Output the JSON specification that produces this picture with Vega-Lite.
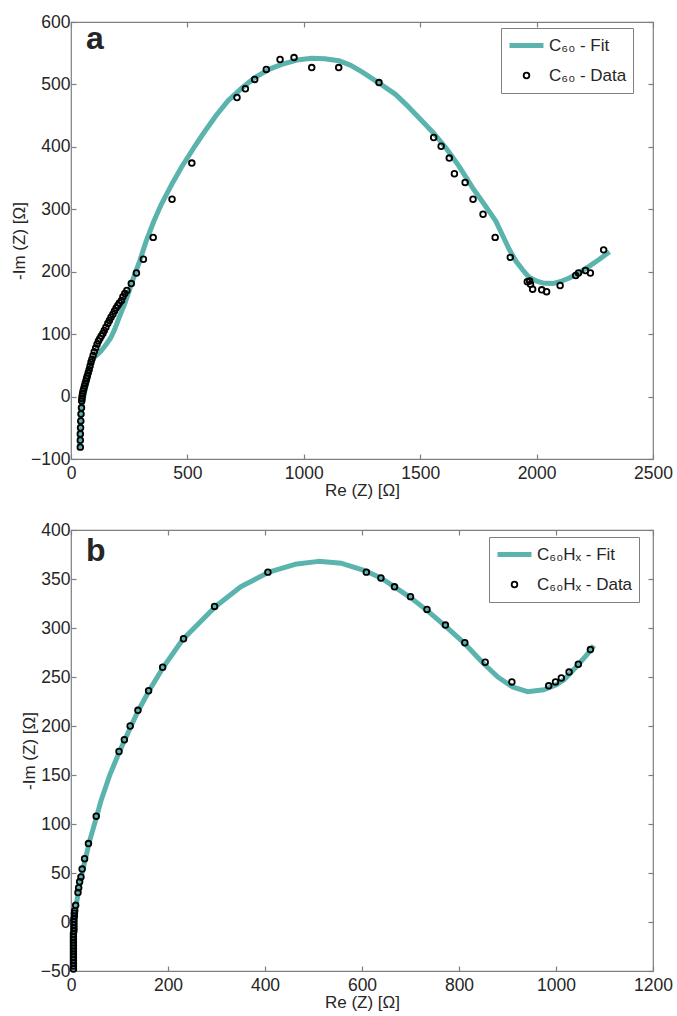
{
  "$schema": "https://vega.github.io/schema/vega-lite/v6.json",
  "background": "white",
  "padding": {"left": 9, "top": 12, "right": 5, "bottom": 0},
  "config": {
    "font": "Liberation Sans",
    "view": {"stroke": "#7f7f7f", "strokeWidth": 1.2},
    "axis": {
      "domain": false, "grid": false, "tickSize": -5, "tickColor": "#7f7f7f", "tickWidth": 1.2,
      "labelFont": "Liberation Sans", "labelFontSize": 17.5, "labelColor": "#262626",
      "titleFont": "Liberation Sans", "titleFontSize": 17, "titleFontWeight": "normal", "titleColor": "#262626",
      "labelFlush": false, "labelOverlap": false, "format": "d"
    },
    "axisX": {"labelPadding": 10, "titlePadding": 1},
    "axisY": {"labelPadding": 6, "titlePadding": 2},
    "legend": {
      "title": null, "strokeColor": "#7f7f7f", "fillColor": "white", "padding": 6,
      "labelFont": "Liberation Sans", "labelFontSize": 17, "labelColor": "#262626",
      "rowPadding": 7, "labelOffset": 3, "clipHeight": 23
    }
  },
  "datasets": {
    "fitA": [
      {"x": 36, "y": -85, "series": "C₆₀ - Fit"}, {"x": 38, "y": -60, "series": "C₆₀ - Fit"}, {"x": 41, "y": -35, "series": "C₆₀ - Fit"}, {"x": 45, "y": -18, "series": "C₆₀ - Fit"}, {"x": 50, "y": -8, "series": "C₆₀ - Fit"},
      {"x": 56, "y": 2, "series": "C₆₀ - Fit"}, {"x": 63, "y": 15, "series": "C₆₀ - Fit"}, {"x": 72, "y": 30, "series": "C₆₀ - Fit"}, {"x": 80, "y": 44, "series": "C₆₀ - Fit"}, {"x": 86, "y": 55, "series": "C₆₀ - Fit"},
      {"x": 93, "y": 60, "series": "C₆₀ - Fit"}, {"x": 105, "y": 65, "series": "C₆₀ - Fit"}, {"x": 118, "y": 69, "series": "C₆₀ - Fit"}, {"x": 129, "y": 73, "series": "C₆₀ - Fit"}, {"x": 150, "y": 83, "series": "C₆₀ - Fit"},
      {"x": 172, "y": 95, "series": "C₆₀ - Fit"}, {"x": 188, "y": 108, "series": "C₆₀ - Fit"}, {"x": 201, "y": 121, "series": "C₆₀ - Fit"}, {"x": 215, "y": 134, "series": "C₆₀ - Fit"}, {"x": 230, "y": 148, "series": "C₆₀ - Fit"},
      {"x": 245, "y": 164, "series": "C₆₀ - Fit"}, {"x": 259, "y": 180, "series": "C₆₀ - Fit"}, {"x": 277, "y": 199, "series": "C₆₀ - Fit"}, {"x": 295, "y": 217, "series": "C₆₀ - Fit"}, {"x": 323, "y": 249, "series": "C₆₀ - Fit"},
      {"x": 355, "y": 280, "series": "C₆₀ - Fit"}, {"x": 388, "y": 308, "series": "C₆₀ - Fit"}, {"x": 430, "y": 338, "series": "C₆₀ - Fit"}, {"x": 474, "y": 367, "series": "C₆₀ - Fit"}, {"x": 525, "y": 397, "series": "C₆₀ - Fit"},
      {"x": 575, "y": 425, "series": "C₆₀ - Fit"}, {"x": 625, "y": 451, "series": "C₆₀ - Fit"}, {"x": 675, "y": 474, "series": "C₆₀ - Fit"}, {"x": 730, "y": 493, "series": "C₆₀ - Fit"}, {"x": 790, "y": 511, "series": "C₆₀ - Fit"},
      {"x": 850, "y": 524, "series": "C₆₀ - Fit"}, {"x": 905, "y": 532, "series": "C₆₀ - Fit"}, {"x": 970, "y": 539, "series": "C₆₀ - Fit"}, {"x": 1035, "y": 542, "series": "C₆₀ - Fit"}, {"x": 1090, "y": 541, "series": "C₆₀ - Fit"},
      {"x": 1150, "y": 538, "series": "C₆₀ - Fit"}, {"x": 1200, "y": 531, "series": "C₆₀ - Fit"}, {"x": 1250, "y": 520, "series": "C₆₀ - Fit"}, {"x": 1320, "y": 503, "series": "C₆₀ - Fit"}, {"x": 1394, "y": 484, "series": "C₆₀ - Fit"},
      {"x": 1450, "y": 464, "series": "C₆₀ - Fit"}, {"x": 1509, "y": 441, "series": "C₆₀ - Fit"}, {"x": 1560, "y": 421, "series": "C₆₀ - Fit"}, {"x": 1609, "y": 399, "series": "C₆₀ - Fit"}, {"x": 1665, "y": 370, "series": "C₆₀ - Fit"},
      {"x": 1724, "y": 335, "series": "C₆₀ - Fit"}, {"x": 1775, "y": 308, "series": "C₆₀ - Fit"}, {"x": 1825, "y": 281, "series": "C₆₀ - Fit"}, {"x": 1882, "y": 236, "series": "C₆₀ - Fit"}, {"x": 1911, "y": 217, "series": "C₆₀ - Fit"},
      {"x": 1940, "y": 203, "series": "C₆₀ - Fit"}, {"x": 1968, "y": 191, "series": "C₆₀ - Fit"}, {"x": 2000, "y": 185, "series": "C₆₀ - Fit"}, {"x": 2026, "y": 182, "series": "C₆₀ - Fit"}, {"x": 2069, "y": 181, "series": "C₆₀ - Fit"},
      {"x": 2100, "y": 184, "series": "C₆₀ - Fit"}, {"x": 2141, "y": 190, "series": "C₆₀ - Fit"}, {"x": 2185, "y": 199, "series": "C₆₀ - Fit"}, {"x": 2227, "y": 209, "series": "C₆₀ - Fit"}, {"x": 2270, "y": 220, "series": "C₆₀ - Fit"},
      {"x": 2313, "y": 232, "series": "C₆₀ - Fit"}
    ],
    "dataA": [
      {"x": 40, "y": -81, "series": "C₆₀ - Data"}, {"x": 40, "y": -70, "series": "C₆₀ - Data"}, {"x": 40, "y": -60, "series": "C₆₀ - Data"}, {"x": 41, "y": -50, "series": "C₆₀ - Data"}, {"x": 42, "y": -39, "series": "C₆₀ - Data"},
      {"x": 43, "y": -28, "series": "C₆₀ - Data"}, {"x": 45, "y": -18, "series": "C₆₀ - Data"}, {"x": 46, "y": -7, "series": "C₆₀ - Data"}, {"x": 47, "y": -3, "series": "C₆₀ - Data"}, {"x": 48, "y": 1, "series": "C₆₀ - Data"},
      {"x": 50, "y": 5, "series": "C₆₀ - Data"}, {"x": 52, "y": 9, "series": "C₆₀ - Data"}, {"x": 55, "y": 13, "series": "C₆₀ - Data"}, {"x": 58, "y": 17, "series": "C₆₀ - Data"}, {"x": 61, "y": 21, "series": "C₆₀ - Data"},
      {"x": 64, "y": 25, "series": "C₆₀ - Data"}, {"x": 67, "y": 29, "series": "C₆₀ - Data"}, {"x": 70, "y": 33, "series": "C₆₀ - Data"}, {"x": 74, "y": 38, "series": "C₆₀ - Data"}, {"x": 78, "y": 43, "series": "C₆₀ - Data"},
      {"x": 82, "y": 49, "series": "C₆₀ - Data"}, {"x": 86, "y": 55, "series": "C₆₀ - Data"}, {"x": 90, "y": 60, "series": "C₆₀ - Data"}, {"x": 95, "y": 66, "series": "C₆₀ - Data"}, {"x": 100, "y": 72, "series": "C₆₀ - Data"},
      {"x": 106, "y": 78, "series": "C₆₀ - Data"}, {"x": 112, "y": 84, "series": "C₆₀ - Data"}, {"x": 118, "y": 89, "series": "C₆₀ - Data"}, {"x": 124, "y": 93, "series": "C₆₀ - Data"}, {"x": 130, "y": 97, "series": "C₆₀ - Data"},
      {"x": 137, "y": 101, "series": "C₆₀ - Data"}, {"x": 143, "y": 106, "series": "C₆₀ - Data"}, {"x": 150, "y": 111, "series": "C₆₀ - Data"}, {"x": 158, "y": 117, "series": "C₆₀ - Data"}, {"x": 165, "y": 122, "series": "C₆₀ - Data"},
      {"x": 172, "y": 127, "series": "C₆₀ - Data"}, {"x": 180, "y": 132, "series": "C₆₀ - Data"}, {"x": 187, "y": 137, "series": "C₆₀ - Data"}, {"x": 194, "y": 142, "series": "C₆₀ - Data"}, {"x": 201, "y": 146, "series": "C₆₀ - Data"},
      {"x": 208, "y": 150, "series": "C₆₀ - Data"}, {"x": 217, "y": 154, "series": "C₆₀ - Data"}, {"x": 223, "y": 160, "series": "C₆₀ - Data"}, {"x": 231, "y": 165, "series": "C₆₀ - Data"}, {"x": 240, "y": 170, "series": "C₆₀ - Data"},
      {"x": 259, "y": 181, "series": "C₆₀ - Data"}, {"x": 281, "y": 198, "series": "C₆₀ - Data"}, {"x": 311, "y": 220, "series": "C₆₀ - Data"}, {"x": 353, "y": 255, "series": "C₆₀ - Data"}, {"x": 434, "y": 316, "series": "C₆₀ - Data"},
      {"x": 519, "y": 374, "series": "C₆₀ - Data"}, {"x": 713, "y": 479, "series": "C₆₀ - Data"}, {"x": 749, "y": 493, "series": "C₆₀ - Data"}, {"x": 789, "y": 508, "series": "C₆₀ - Data"}, {"x": 839, "y": 524, "series": "C₆₀ - Data"},
      {"x": 898, "y": 540, "series": "C₆₀ - Data"}, {"x": 958, "y": 543, "series": "C₆₀ - Data"}, {"x": 1034, "y": 527, "series": "C₆₀ - Data"}, {"x": 1150, "y": 527, "series": "C₆₀ - Data"}, {"x": 1323, "y": 503, "series": "C₆₀ - Data"},
      {"x": 1558, "y": 415, "series": "C₆₀ - Data"}, {"x": 1590, "y": 401, "series": "C₆₀ - Data"}, {"x": 1625, "y": 382, "series": "C₆₀ - Data"}, {"x": 1647, "y": 357, "series": "C₆₀ - Data"}, {"x": 1693, "y": 343, "series": "C₆₀ - Data"},
      {"x": 1727, "y": 316, "series": "C₆₀ - Data"}, {"x": 1770, "y": 292, "series": "C₆₀ - Data"}, {"x": 1822, "y": 255, "series": "C₆₀ - Data"}, {"x": 1887, "y": 223, "series": "C₆₀ - Data"}, {"x": 1960, "y": 184, "series": "C₆₀ - Data"},
      {"x": 1970, "y": 185, "series": "C₆₀ - Data"}, {"x": 1974, "y": 180, "series": "C₆₀ - Data"}, {"x": 1983, "y": 172, "series": "C₆₀ - Data"}, {"x": 2022, "y": 171, "series": "C₆₀ - Data"}, {"x": 2043, "y": 168, "series": "C₆₀ - Data"},
      {"x": 2101, "y": 178, "series": "C₆₀ - Data"}, {"x": 2168, "y": 194, "series": "C₆₀ - Data"}, {"x": 2180, "y": 198, "series": "C₆₀ - Data"}, {"x": 2210, "y": 202, "series": "C₆₀ - Data"}, {"x": 2231, "y": 198, "series": "C₆₀ - Data"},
      {"x": 2288, "y": 235, "series": "C₆₀ - Data"}
    ],
    "fitB": [
      {"x": 4, "y": -50, "series": "C₆₀Hₓ - Fit"}, {"x": 5, "y": -30, "series": "C₆₀Hₓ - Fit"}, {"x": 6, "y": -10, "series": "C₆₀Hₓ - Fit"}, {"x": 8, "y": 5, "series": "C₆₀Hₓ - Fit"}, {"x": 11, "y": 18, "series": "C₆₀Hₓ - Fit"},
      {"x": 16, "y": 33, "series": "C₆₀Hₓ - Fit"}, {"x": 22, "y": 48, "series": "C₆₀Hₓ - Fit"}, {"x": 30, "y": 65, "series": "C₆₀Hₓ - Fit"}, {"x": 38, "y": 82, "series": "C₆₀Hₓ - Fit"}, {"x": 52, "y": 106, "series": "C₆₀Hₓ - Fit"},
      {"x": 62, "y": 124, "series": "C₆₀Hₓ - Fit"}, {"x": 80, "y": 150, "series": "C₆₀Hₓ - Fit"}, {"x": 100, "y": 174, "series": "C₆₀Hₓ - Fit"}, {"x": 122, "y": 198, "series": "C₆₀Hₓ - Fit"}, {"x": 138, "y": 215, "series": "C₆₀Hₓ - Fit"},
      {"x": 161, "y": 236, "series": "C₆₀Hₓ - Fit"}, {"x": 189, "y": 259, "series": "C₆₀Hₓ - Fit"}, {"x": 230, "y": 288, "series": "C₆₀Hₓ - Fit"}, {"x": 298, "y": 322, "series": "C₆₀Hₓ - Fit"}, {"x": 350, "y": 342, "series": "C₆₀Hₓ - Fit"},
      {"x": 408, "y": 357, "series": "C₆₀Hₓ - Fit"}, {"x": 462, "y": 365, "series": "C₆₀Hₓ - Fit"}, {"x": 510, "y": 368, "series": "C₆₀Hₓ - Fit"}, {"x": 558, "y": 366, "series": "C₆₀Hₓ - Fit"}, {"x": 609, "y": 358, "series": "C₆₀Hₓ - Fit"},
      {"x": 639, "y": 351, "series": "C₆₀Hₓ - Fit"}, {"x": 667, "y": 342, "series": "C₆₀Hₓ - Fit"}, {"x": 700, "y": 331, "series": "C₆₀Hₓ - Fit"}, {"x": 734, "y": 318, "series": "C₆₀Hₓ - Fit"}, {"x": 772, "y": 302, "series": "C₆₀Hₓ - Fit"},
      {"x": 812, "y": 284, "series": "C₆₀Hₓ - Fit"}, {"x": 850, "y": 264, "series": "C₆₀Hₓ - Fit"}, {"x": 880, "y": 250, "series": "C₆₀Hₓ - Fit"}, {"x": 910, "y": 240, "series": "C₆₀Hₓ - Fit"}, {"x": 941, "y": 235, "series": "C₆₀Hₓ - Fit"},
      {"x": 975, "y": 237, "series": "C₆₀Hₓ - Fit"}, {"x": 1000, "y": 242, "series": "C₆₀Hₓ - Fit"}, {"x": 1016, "y": 247, "series": "C₆₀Hₓ - Fit"}, {"x": 1045, "y": 262, "series": "C₆₀Hₓ - Fit"}, {"x": 1071, "y": 277, "series": "C₆₀Hₓ - Fit"},
      {"x": 1078, "y": 282, "series": "C₆₀Hₓ - Fit"}
    ],
    "dataB": [
      {"x": 5, "y": -48, "series": "C₆₀Hₓ - Data"}, {"x": 5, "y": -45, "series": "C₆₀Hₓ - Data"}, {"x": 5, "y": -42, "series": "C₆₀Hₓ - Data"}, {"x": 5, "y": -39, "series": "C₆₀Hₓ - Data"}, {"x": 5, "y": -36, "series": "C₆₀Hₓ - Data"},
      {"x": 5, "y": -33, "series": "C₆₀Hₓ - Data"}, {"x": 5, "y": -30, "series": "C₆₀Hₓ - Data"}, {"x": 5, "y": -27, "series": "C₆₀Hₓ - Data"}, {"x": 5, "y": -24, "series": "C₆₀Hₓ - Data"}, {"x": 5, "y": -21, "series": "C₆₀Hₓ - Data"},
      {"x": 5, "y": -18, "series": "C₆₀Hₓ - Data"}, {"x": 5, "y": -15, "series": "C₆₀Hₓ - Data"}, {"x": 5, "y": -12, "series": "C₆₀Hₓ - Data"}, {"x": 6, "y": -9, "series": "C₆₀Hₓ - Data"}, {"x": 6, "y": -6, "series": "C₆₀Hₓ - Data"},
      {"x": 6, "y": -3, "series": "C₆₀Hₓ - Data"}, {"x": 6, "y": 0, "series": "C₆₀Hₓ - Data"}, {"x": 6, "y": 3, "series": "C₆₀Hₓ - Data"}, {"x": 7, "y": 6, "series": "C₆₀Hₓ - Data"}, {"x": 7, "y": 9, "series": "C₆₀Hₓ - Data"},
      {"x": 7.6, "y": 11.6, "series": "C₆₀Hₓ - Data"}, {"x": 9.6, "y": 17, "series": "C₆₀Hₓ - Data"}, {"x": 14.4, "y": 30, "series": "C₆₀Hₓ - Data"}, {"x": 15.8, "y": 35, "series": "C₆₀Hₓ - Data"}, {"x": 17.8, "y": 41, "series": "C₆₀Hₓ - Data"},
      {"x": 20.5, "y": 46, "series": "C₆₀Hₓ - Data"}, {"x": 23, "y": 54, "series": "C₆₀Hₓ - Data"}, {"x": 28, "y": 64.6, "series": "C₆₀Hₓ - Data"}, {"x": 36, "y": 80, "series": "C₆₀Hₓ - Data"}, {"x": 52, "y": 108, "series": "C₆₀Hₓ - Data"},
      {"x": 99, "y": 174, "series": "C₆₀Hₓ - Data"}, {"x": 110, "y": 186, "series": "C₆₀Hₓ - Data"}, {"x": 122, "y": 200, "series": "C₆₀Hₓ - Data"}, {"x": 138, "y": 216, "series": "C₆₀Hₓ - Data"}, {"x": 160, "y": 236, "series": "C₆₀Hₓ - Data"},
      {"x": 189, "y": 260, "series": "C₆₀Hₓ - Data"}, {"x": 232, "y": 289, "series": "C₆₀Hₓ - Data"}, {"x": 296, "y": 322, "series": "C₆₀Hₓ - Data"}, {"x": 406, "y": 357, "series": "C₆₀Hₓ - Data"}, {"x": 609, "y": 357, "series": "C₆₀Hₓ - Data"},
      {"x": 639, "y": 351, "series": "C₆₀Hₓ - Data"}, {"x": 667, "y": 342, "series": "C₆₀Hₓ - Data"}, {"x": 700, "y": 332, "series": "C₆₀Hₓ - Data"}, {"x": 734, "y": 319, "series": "C₆₀Hₓ - Data"}, {"x": 772, "y": 303, "series": "C₆₀Hₓ - Data"},
      {"x": 812, "y": 285, "series": "C₆₀Hₓ - Data"}, {"x": 854, "y": 265, "series": "C₆₀Hₓ - Data"}, {"x": 909, "y": 245, "series": "C₆₀Hₓ - Data"}, {"x": 985, "y": 241, "series": "C₆₀Hₓ - Data"}, {"x": 999, "y": 245, "series": "C₆₀Hₓ - Data"},
      {"x": 1011, "y": 249, "series": "C₆₀Hₓ - Data"}, {"x": 1027, "y": 255, "series": "C₆₀Hₓ - Data"}, {"x": 1046, "y": 263, "series": "C₆₀Hₓ - Data"}, {"x": 1071, "y": 278, "series": "C₆₀Hₓ - Data"}
    ]
  },
  "columns": 1,
  "spacing": 20,
  "resolve": {
    "scale": {"color": "independent", "shape": "independent", "size": "independent", "strokeWidth": "independent"},
    "legend": {"color": "independent", "shape": "independent", "size": "independent", "strokeWidth": "independent"}
  },
  "concat": [
    {
      "width": 582,
      "height": 437,
      "layer": [
        {
          "data": {"name": "fitA"},
          "mark": {"type": "line", "strokeWidth": 5, "strokeCap": "butt", "strokeJoin": "round"},
          "encoding": {
            "x": {"field": "x", "type": "quantitative", "scale": {"domain": [0, 2500], "nice": false, "zero": false},
              "axis": {"orient": "bottom", "values": [0, 500, 1000, 1500, 2000, 2500], "title": "Re (Z) [Ω]"}},
            "y": {"field": "y", "type": "quantitative", "scale": {"domain": [-100, 600], "nice": false, "zero": false},
              "axis": {"orient": "left", "values": [-100, 0, 100, 200, 300, 400, 500, 600], "title": "-Im (Z) [Ω]"}},
            "color": {"field": "series", "type": "nominal",
              "scale": {"domain": ["C₆₀ - Fit", "C₆₀ - Data"], "range": ["#5BB3AD", "#000000"]},
              "legend": {"orient": "none", "legendX": 430, "legendY": 6}}
          }
        },
        {
          "data": {"name": "dataA"},
          "mark": {"type": "point", "filled": false, "opacity": 1},
          "encoding": {
            "x": {"field": "x", "type": "quantitative",
              "axis": {"orient": "top", "values": [0, 500, 1000, 1500, 2000, 2500], "labels": false, "title": null}},
            "y": {"field": "y", "type": "quantitative",
              "axis": {"orient": "right", "values": [-100, 0, 100, 200, 300, 400, 500, 600], "labels": false, "title": null}},
            "color": {"field": "series", "type": "nominal"},
            "shape": {"field": "series", "type": "nominal",
              "scale": {"domain": ["C₆₀ - Fit", "C₆₀ - Data"], "range": ["stroke", "circle"]},
              "legend": {"orient": "none", "legendX": 430, "legendY": 6}},
            "size": {"field": "series", "type": "nominal",
              "scale": {"domain": ["C₆₀ - Fit", "C₆₀ - Data"], "range": [1150, 32]},
              "legend": {"orient": "none", "legendX": 430, "legendY": 6}},
            "strokeWidth": {"field": "series", "type": "nominal",
              "scale": {"domain": ["C₆₀ - Fit", "C₆₀ - Data"], "range": [5, 1.8]},
              "legend": {"orient": "none", "legendX": 430, "legendY": 6}}
          }
        },
        {
          "data": {"values": [{"label": "a"}]},
          "mark": {"type": "text", "font": "Liberation Sans", "fontSize": 32, "fontWeight": "bold", "color": "#262626", "align": "left", "baseline": "alphabetic"},
          "encoding": {
            "x": {"datum": 64, "type": "quantitative", "axis": null},
            "y": {"datum": 556, "type": "quantitative", "axis": null},
            "text": {"field": "label"}
          }
        }
      ],
      "resolve": {"axis": {"x": "independent", "y": "independent"}}
    },
    {
      "width": 582,
      "height": 441,
      "layer": [
        {
          "data": {"name": "fitB"},
          "mark": {"type": "line", "strokeWidth": 5, "strokeCap": "butt", "strokeJoin": "round"},
          "encoding": {
            "x": {"field": "x", "type": "quantitative", "scale": {"domain": [0, 1200], "nice": false, "zero": false},
              "axis": {"orient": "bottom", "values": [0, 200, 400, 600, 800, 1000, 1200], "title": "Re (Z) [Ω]"}},
            "y": {"field": "y", "type": "quantitative", "scale": {"domain": [-50, 400], "nice": false, "zero": false},
              "axis": {"orient": "left", "values": [-50, 0, 50, 100, 150, 200, 250, 300, 350, 400], "title": "-Im (Z) [Ω]"}},
            "color": {"field": "series", "type": "nominal",
              "scale": {"domain": ["C₆₀Hₓ - Fit", "C₆₀Hₓ - Data"], "range": ["#5BB3AD", "#000000"]},
              "legend": {"orient": "none", "legendX": 418, "legendY": 7}}
          }
        },
        {
          "data": {"name": "dataB"},
          "mark": {"type": "point", "filled": false, "opacity": 1},
          "encoding": {
            "x": {"field": "x", "type": "quantitative",
              "axis": {"orient": "top", "values": [0, 200, 400, 600, 800, 1000, 1200], "labels": false, "title": null}},
            "y": {"field": "y", "type": "quantitative",
              "axis": {"orient": "right", "values": [-50, 0, 50, 100, 150, 200, 250, 300, 350, 400], "labels": false, "title": null}},
            "color": {"field": "series", "type": "nominal"},
            "shape": {"field": "series", "type": "nominal",
              "scale": {"domain": ["C₆₀Hₓ - Fit", "C₆₀Hₓ - Data"], "range": ["stroke", "circle"]},
              "legend": {"orient": "none", "legendX": 418, "legendY": 7}},
            "size": {"field": "series", "type": "nominal",
              "scale": {"domain": ["C₆₀Hₓ - Fit", "C₆₀Hₓ - Data"], "range": [1150, 32]},
              "legend": {"orient": "none", "legendX": 418, "legendY": 7}},
            "strokeWidth": {"field": "series", "type": "nominal",
              "scale": {"domain": ["C₆₀Hₓ - Fit", "C₆₀Hₓ - Data"], "range": [5, 1.8]},
              "legend": {"orient": "none", "legendX": 418, "legendY": 7}}
          }
        },
        {
          "data": {"values": [{"label": "b"}]},
          "mark": {"type": "text", "font": "Liberation Sans", "fontSize": 32, "fontWeight": "bold", "color": "#262626", "align": "left", "baseline": "alphabetic"},
          "encoding": {
            "x": {"datum": 31, "type": "quantitative", "axis": null},
            "y": {"datum": 368, "type": "quantitative", "axis": null},
            "text": {"field": "label"}
          }
        }
      ],
      "resolve": {"axis": {"x": "independent", "y": "independent"}}
    }
  ]
}
